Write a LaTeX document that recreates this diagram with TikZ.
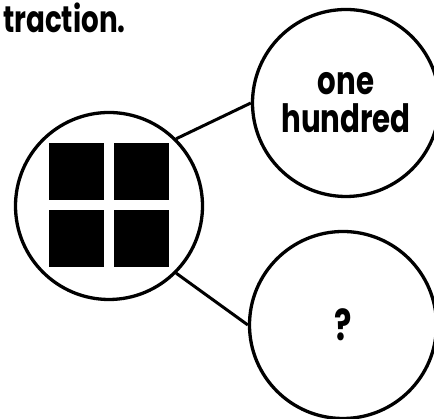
\documentclass[tikz,border=0pt]{standalone}
\usepackage{fontspec}
\newfontfamily\gothic[FakeStretch=.75]{Poppins}
\begin{document}
\begin{tikzpicture}[x=1pt,y=1pt,
    bubble/.style={draw,circle,line width=3.3pt,minimum size=187pt,inner sep=0pt,align=center,
      font=\gothic\bfseries\fontsize{39}{38}\selectfont},
    tile/.style={fill,minimum width=55pt,minimum height=57pt,inner sep=0pt}]
  \useasboundingbox (0,0) rectangle (434,419);
  \node[anchor=base west,inner sep=0pt,font=\gothic\bfseries\fontsize{37}{38}\selectfont] (title) at (3,386) {traction.};
  \node[bubble] (blocks) at (109,213) {};
  \node[tile] (tl) at (76.5,247.5) {};
  \node[tile] (tr) at (141,247.5) {};
  \node[tile] (bl) at (76.5,180.5) {};
  \node[tile] (br) at (141,180.5) {};
  \node[bubble] (hund) at (346,316) {one\\hundred};
  \node[bubble,font=\gothic\bfseries\fontsize{43}{40}\selectfont] (ask) at (343,94) {?};
  \draw[line width=3pt] (blocks.north east) -- (hund.west);
  \draw[line width=3pt] (blocks.south east) -- (ask.west);
\end{tikzpicture}
\end{document}
